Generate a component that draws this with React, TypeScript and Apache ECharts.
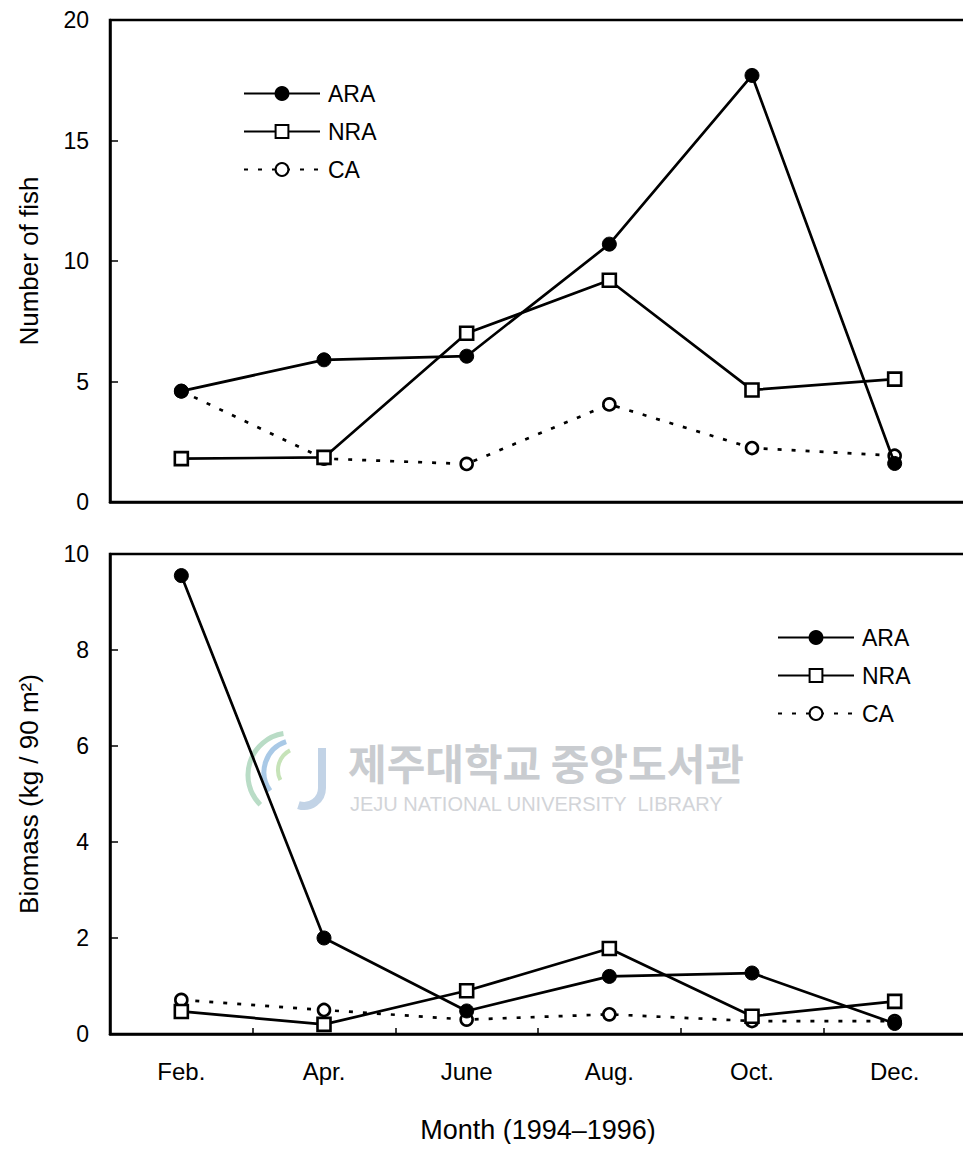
import React, { useEffect, useRef } from "react";
import * as echarts from "echarts";

const months = ["Feb.", "Apr.", "June", "Aug.", "Oct.", "Dec."];
const seriesNames = ["ARA", "NRA", "CA"];

// Number of fish
const fishARA = [4.6, 5.9, 6.05, 10.7, 17.7, 1.6];
const fishNRA = [1.8, 1.85, 7.0, 9.2, 4.65, 5.1];
const fishCA = [4.6, 1.8, 1.58, 4.05, 2.24, 1.92];

// Biomass (kg / 90 m²)
const bioARA = [9.55, 2.0, 0.48, 1.2, 1.27, 0.22];
const bioNRA = [0.47, 0.2, 0.9, 1.78, 0.37, 0.68];
const bioCA = [0.71, 0.5, 0.3, 0.41, 0.27, 0.27];

const fishTicks = { min: 0, max: 20, interval: 5 };
const bioTicks = { min: 0, max: 10, interval: 2 };

const FONT = "'Liberation Sans', Arial, sans-serif";
// the page body has an 8px margin; chart coordinates are relative to the div
const OFF = 8;

export default function App() {
  const ref = useRef<HTMLDivElement>(null);

  useEffect(() => {
    if (!ref.current) return;
    const chart = echarts.init(ref.current, null, { renderer: "svg" });

    const styles: Record<string, any> = {
      ARA: {
        symbol: "circle",
        symbolSize: 14,
        itemStyle: { color: "#000", borderColor: "#000", borderWidth: 1 },
        lineStyle: { color: "#000", width: 2.7, type: "solid" },
      },
      NRA: {
        symbol: "rect",
        symbolSize: 13,
        itemStyle: { color: "#fff", borderColor: "#000", borderWidth: 2.6 },
        lineStyle: { color: "#000", width: 2.7, type: "solid" },
      },
      CA: {
        symbol: "circle",
        symbolSize: 12,
        itemStyle: { color: "#fff", borderColor: "#000", borderWidth: 2.6 },
        lineStyle: { color: "#000", width: 2.7, type: [4, 10] },
      },
    };

    const mk = (name: string, data: number[], idx: number) => ({
      name,
      type: "line",
      xAxisIndex: idx,
      yAxisIndex: idx,
      data,
      showSymbol: true,
      z: name === "CA" ? 2 : name === "NRA" ? 3 : 4,
      ...styles[name],
    });

    const grid = (top: number) => ({
      left: 106 - OFF,
      top: top - OFF,
      width: 860,
      height: 482,
      show: true,
      borderColor: "#000",
      borderWidth: 2.5,
      backgroundColor: "transparent",
    });

    const yAxis = (t: any, idx: number, name: string) => ({
      type: "value",
      gridIndex: idx,
      min: t.min,
      max: t.max,
      interval: t.interval,
      name,
      nameLocation: "middle",
      nameGap: 68,
      nameTextStyle: { fontSize: 26, color: "#000", fontFamily: FONT },
      axisLine: { show: true, lineStyle: { color: "#000", width: 2.5 } },
      axisTick: { show: true, inside: true, length: 8, lineStyle: { color: "#000", width: 1.5 } },
      axisLabel: { fontSize: 23, color: "#000", fontFamily: FONT, margin: 21 },
      splitLine: { show: false },
    });

    const legend = (left: number, top: number) => ({
      data: seriesNames,
      orient: "vertical",
      left: left - OFF,
      top: top - OFF,
      itemWidth: 76,
      itemHeight: 16,
      itemGap: 15,
      selectedMode: false,
      textStyle: { fontSize: 23, lineHeight: 23, color: "#000", fontFamily: FONT, padding: [0, 0, 0, 3] },
    });

    chart.setOption({
      animation: false,
      backgroundColor: "#fff",
      textStyle: { fontFamily: FONT },
      grid: [grid(20), grid(554)],
      legend: [legend(238, 77), legend(772, 621)],
      xAxis: [
        {
          type: "category",
          gridIndex: 0,
          data: months,
          boundaryGap: true,
          axisLine: { show: true, lineStyle: { color: "#000", width: 2.5 } },
          axisTick: { show: false },
          axisLabel: { show: false },
        },
        {
          type: "category",
          gridIndex: 1,
          data: months,
          boundaryGap: true,
          name: "Month (1994–1996)",
          nameLocation: "middle",
          nameGap: 82,
          nameTextStyle: { fontSize: 27, color: "#000", fontFamily: FONT },
          axisLine: { show: true, lineStyle: { color: "#000", width: 2.5 } },
          axisTick: { show: true, inside: true, length: 6, lineStyle: { color: "#000", width: 1.5 } },
          axisLabel: { fontSize: 24, color: "#000", fontFamily: FONT, margin: 25 },
        },
      ],
      yAxis: [
        yAxis(fishTicks, 0, "Number of fish"),
        yAxis(bioTicks, 1, "Biomass (kg / 90 m²)"),
      ],
      graphic: [
        {
          type: "group",
          z: -1,
          children: [
            {
              type: "arc",
              shape: { cx: 290 - OFF, cy: 775 - OFF, r: 42, startAngle: Math.PI * 0.75, endAngle: Math.PI * 1.45 },
              style: { stroke: "#b9dcc6", lineWidth: 5, fill: "none" },
            },
            {
              type: "arc",
              shape: { cx: 296 - OFF, cy: 772 - OFF, r: 32, startAngle: Math.PI * 0.8, endAngle: Math.PI * 1.4 },
              style: { stroke: "#a9c9e6", lineWidth: 5, fill: "none" },
            },
            {
              type: "arc",
              shape: { cx: 300 - OFF, cy: 770 - OFF, r: 22, startAngle: Math.PI * 0.85, endAngle: Math.PI * 1.35 },
              style: { stroke: "#c6e3b8", lineWidth: 4, fill: "none" },
            },
            {
              type: "rect",
              shape: { x: 318 - OFF, y: 748 - OFF, width: 8, height: 40 },
              style: { fill: "#c2d3e6" },
            },
            {
              type: "arc",
              shape: { cx: 304 - OFF, cy: 788 - OFF, r: 18, startAngle: 0, endAngle: Math.PI * 0.6 },
              style: { stroke: "#c2d3e6", lineWidth: 8, fill: "none" },
            },
          ],
        },
        {
          type: "text",
          left: 348 - OFF,
          top: 740 - OFF,
          z: -1,
          style: { text: "제주대학교 중앙도서관", fontSize: 42, fontWeight: "bold", fill: "#c9ccd0", fontFamily: "'Noto Sans CJK KR', sans-serif" },
        },
        {
          type: "text",
          left: 350 - OFF,
          top: 794 - OFF,
          z: -1,
          style: { text: "JEJU NATIONAL UNIVERSITY  LIBRARY", fontSize: 20, fill: "#d2d4d8", fontFamily: FONT },
        },
      ],
      series: [
        mk("ARA", fishARA, 0),
        mk("NRA", fishNRA, 0),
        mk("CA", fishCA, 0),
        mk("ARA", bioARA, 1),
        mk("NRA", bioNRA, 1),
        mk("CA", bioCA, 1),
      ],
    });

    return () => chart.dispose();
  }, []);

  return <div ref={ref} style={{ width: 963, height: 1136 }} />;
}
